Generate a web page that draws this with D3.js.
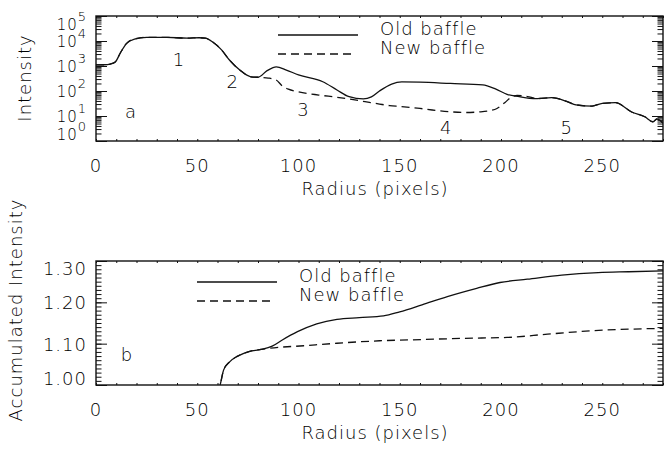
<!DOCTYPE html>
<html>
<head>
<meta charset="utf-8">
<script src="https://cdn.jsdelivr.net/npm/d3@7"></script>
<style>
  body { margin: 0; background: #fff; }
  text { font-family: "DejaVu Sans", sans-serif; font-weight: 200; fill: #000; letter-spacing: 1px; }
</style>
</head>
<body>
<div id="chart"></div>
<script>
// ---- panel a : intensity profile (log) ----
var radiusOld = [0, 4, 7, 9.5, 12, 15, 19, 25, 35, 45, 51, 54, 57.5, 62, 66, 71, 76.5, 80, 84.5, 89, 94, 100, 112, 119, 125, 132, 136, 140, 146, 151, 160, 175, 191, 197.5, 203, 209, 214, 218, 225, 233, 237, 245, 250, 256.5, 264.5, 271, 275, 277, 280];
var intensityOld = [1100, 1120, 1200, 1450, 3300, 7900, 12000, 14000, 14000, 13000, 13500, 13000, 9300, 4400, 1700, 690, 370, 355, 650, 930, 690, 440, 235, 110, 59, 48, 58, 100, 190, 230, 225, 200, 175, 118, 74, 59, 51, 50, 54, 37, 28, 25, 32, 34, 14.5, 9.3, 5.9, 7.6, 5.2];

var radiusNew = [0, 4, 7, 9.5, 12, 15, 19, 25, 35, 45, 51, 54, 57.5, 62, 66, 71, 76.5, 80, 82, 85, 89, 92, 95, 100, 110, 119, 130, 135, 140, 145, 150, 160, 166, 176, 182, 189, 194, 198, 202, 205, 208, 213, 218, 225, 233, 237, 245, 250, 256.5, 264.5, 271, 275, 277, 280];
var intensityNew = [1100, 1120, 1200, 1450, 3300, 7900, 12000, 14000, 14000, 13000, 13500, 13000, 9300, 4400, 1700, 690, 370, 355, 347, 330, 275, 160, 118, 93, 69, 56, 41, 35, 30, 26, 24, 20, 17.4, 14.5, 13.8, 14.5, 16, 20, 35, 56, 66, 60, 50, 54, 37, 28, 25, 32, 34, 14.5, 9.3, 5.9, 7.6, 5.2];

var logTicks = [1, 10, 100, 1000, 10000, 100000];
var logExponents = ["0", "1", "2", "3", "4", "5"];
var regionLabels = [["1", 41], ["2", 67.5], ["3", 102.5], ["4", 173], ["5", 232.5]];
var regionValues = [1800, 250, 19, 3.6, 3.6];

// ---- panel b : accumulated intensity ----
var radiusAccOld = [60, 61.3, 63, 66, 70, 75.5, 81.5, 87, 92, 99.5, 109, 119, 130, 142, 150, 161, 173.5, 188, 199.5, 213, 230, 248, 263, 280];
var accOld = [0.98, 1.0, 1.036, 1.056, 1.070, 1.081, 1.086, 1.094, 1.109, 1.129, 1.148, 1.159, 1.163, 1.167, 1.177, 1.194, 1.214, 1.234, 1.248, 1.256, 1.266, 1.272, 1.274, 1.276];
var radiusAccNew = [60, 61.3, 63, 66, 70, 75.5, 81.5, 86, 102.6, 119, 140, 161, 182, 203, 223, 244, 280];
var accNew = [0.98, 1.0, 1.036, 1.056, 1.070, 1.081, 1.086, 1.089, 1.095, 1.101, 1.107, 1.110, 1.113, 1.115, 1.123, 1.131, 1.137];

var linTicks = [1.0, 1.1, 1.2, 1.3];
var linLabels = ["1.00", "1.10", "1.20", "1.30"];

var xMajor = [0, 50, 100, 150, 200, 250];
var seriesNames = ["Old baffle", "New baffle"];

var width = 664, height = 449;
var left = 96, right = 663;

var svg = d3.select("#chart").append("svg")
    .attr("width", width)
    .attr("height", height)
    .style("background", "white");

var x = d3.scaleLinear().domain([0, 280]).range([left, right]);
var xMinor = d3.range(0, 281, 10);

function frame(top, bottom, name) {
    var g = svg.append("g");
    g.append("clipPath").attr("id", name)
        .append("rect").attr("x", left).attr("y", top).attr("width", right - left).attr("height", bottom - top);
    // x ticks bottom / top
    g.append("g").attr("transform", "translate(0," + bottom + ")")
        .call(d3.axisBottom(x).tickValues(xMinor).tickSize(-2).tickFormat(""));
    g.append("g").attr("transform", "translate(0," + top + ")")
        .call(d3.axisTop(x).tickValues(xMinor).tickSize(-2).tickFormat(""));
    // x tick labels
    g.selectAll(".xl").data(xMajor).enter().append("text")
        .attr("x", function(d) { return x(d); })
        .attr("y", bottom + 31)
        .attr("text-anchor", "middle")
        .style("font-size", "18px")
        .text(function(d) { return d; });
    g.append("text")
        .attr("x", 375)
        .attr("y", bottom + 54)
        .attr("text-anchor", "middle")
        .style("font-size", "18px")
        .text("Radius (pixels)");
    g.selectAll(".domain").remove();
    g.selectAll("line").attr("stroke", "#111");
    return g;
}

function yTicks(g, y, major, minor, len) {
    [[d3.axisLeft, left], [d3.axisRight, right]].forEach(function(a) {
        var ag = g.append("g").attr("transform", "translate(" + a[1] + ",0)");
        ag.call(a[0](y).tickValues(minor).tickSize(-len / 2).tickFormat(""));
        ag.call(function(s) {
            s.append("g").call(a[0](y).tickValues(major).tickSize(-len).tickFormat(""));
        });
        ag.selectAll(".domain").remove();
        ag.selectAll("line").attr("stroke", "#111");
    });
}

function box(g, top, bottom) {
    g.append("rect").attr("x", left).attr("y", top)
        .attr("width", right - left).attr("height", bottom - top)
        .attr("fill", "none").attr("stroke", "#111").attr("stroke-width", 1.4);
}

function legend(g, x0, y0) {
    g.append("line").attr("x1", x0).attr("x2", x0 + 80).attr("y1", y0).attr("y2", y0)
        .attr("stroke", "#111").attr("stroke-width", 1.3);
    g.append("line").attr("x1", x0).attr("x2", x0 + 76).attr("y1", y0 + 19).attr("y2", y0 + 19)
        .attr("stroke", "#111").attr("stroke-width", 1.3).attr("stroke-dasharray", "8,5");
    seriesNames.forEach(function(n, i) {
        g.append("text").attr("x", x0 + 102).attr("y", y0 + i * 19)
            .style("font-size", "18px").text(n);
    });
}

// ================= panel a =================
var topA = 16, botA = 141;
var yA = d3.scaleLog().domain([1, 100000]).range([botA, topA]);
var gA = frame(topA, botA, "clipA");

var minorLog = [];
logTicks.slice(0, 5).forEach(function(t) { for (var k = 2; k <= 9; k++) minorLog.push(t * k); });
yTicks(gA, yA, logTicks, minorLog, 11);

var lineA = d3.line()
    .x(function(d) { return x(d[0]); })
    .y(function(d) { return yA(d[1]); })
    .curve(d3.curveMonotoneX);

gA.append("path").datum(d3.zip(radiusOld, intensityOld))
    .attr("clip-path", "url(#clipA)")
    .attr("d", lineA).attr("fill", "none").attr("stroke", "#111").attr("stroke-width", 1.3);
gA.append("path").datum(d3.zip(radiusNew, intensityNew))
    .attr("clip-path", "url(#clipA)")
    .attr("d", lineA).attr("fill", "none").attr("stroke", "#111").attr("stroke-width", 1.3)
    .attr("stroke-dasharray", "8,5");

// log tick labels
var nudge = {0: -7, 5: 8};
logTicks.forEach(function(t, i) {
    var ty = yA(t) + (nudge[i] || 0);
    var tx = gA.append("text").attr("x", 87).attr("y", ty + 6)
        .attr("text-anchor", "end").style("font-size", "15px");
    tx.append("tspan").text("10");
    tx.append("tspan").attr("dy", -9).style("font-size", "13px").text(logExponents[i]);
});

gA.append("text").attr("transform", "translate(31," + 78 + ") rotate(-90)")
    .attr("text-anchor", "middle").style("font-size", "18px").text("Intensity");

regionLabels.forEach(function(r, i) {
    gA.append("text").attr("x", x(r[1])).attr("y", yA(regionValues[i]) + 6.5)
        .attr("text-anchor", "middle").style("font-size", "18px").text(r[0]);
});
gA.append("text").attr("x", 131).attr("y", 118).attr("text-anchor", "middle")
    .style("font-size", "18px").text("a");

legend(gA, 278, 35);
box(gA, topA, botA);

// ================= panel b =================
var topB = 261, botB = 385;
var yB = d3.scaleLinear().domain([1.0, 1.3]).range([botB, topB]);
var gB = frame(topB, botB, "clipB");
yTicks(gB, yB, linTicks, d3.range(100, 131).map(function(v) { return v / 100; }), 11);

var lineB = d3.line()
    .x(function(d) { return x(d[0]); })
    .y(function(d) { return yB(d[1]); })
    .curve(d3.curveMonotoneX);

gB.append("path").datum(d3.zip(radiusAccOld, accOld))
    .attr("clip-path", "url(#clipB)")
    .attr("d", lineB).attr("fill", "none").attr("stroke", "#111").attr("stroke-width", 1.3);
gB.append("path").datum(d3.zip(radiusAccNew, accNew))
    .attr("clip-path", "url(#clipB)")
    .attr("d", lineB).attr("fill", "none").attr("stroke", "#111").attr("stroke-width", 1.3)
    .attr("stroke-dasharray", "8,5");

var nudgeB = {0: -7, 3: 7};
linTicks.forEach(function(t, i) {
    gB.append("text").attr("x", 87).attr("y", yB(t) + (nudgeB[i] || 0) + 7)
        .attr("text-anchor", "end").style("font-size", "18px").text(linLabels[i]);
});

gB.append("text").attr("transform", "translate(22," + 310 + ") rotate(-90)")
    .attr("text-anchor", "middle").style("font-size", "18px").text("Accumulated Intensity");
gB.append("text").attr("x", 127).attr("y", 361).attr("text-anchor", "middle")
    .style("font-size", "18px").text("b");

legend(gB, 197, 282);
box(gB, topB, botB);
</script>
</body>
</html>
